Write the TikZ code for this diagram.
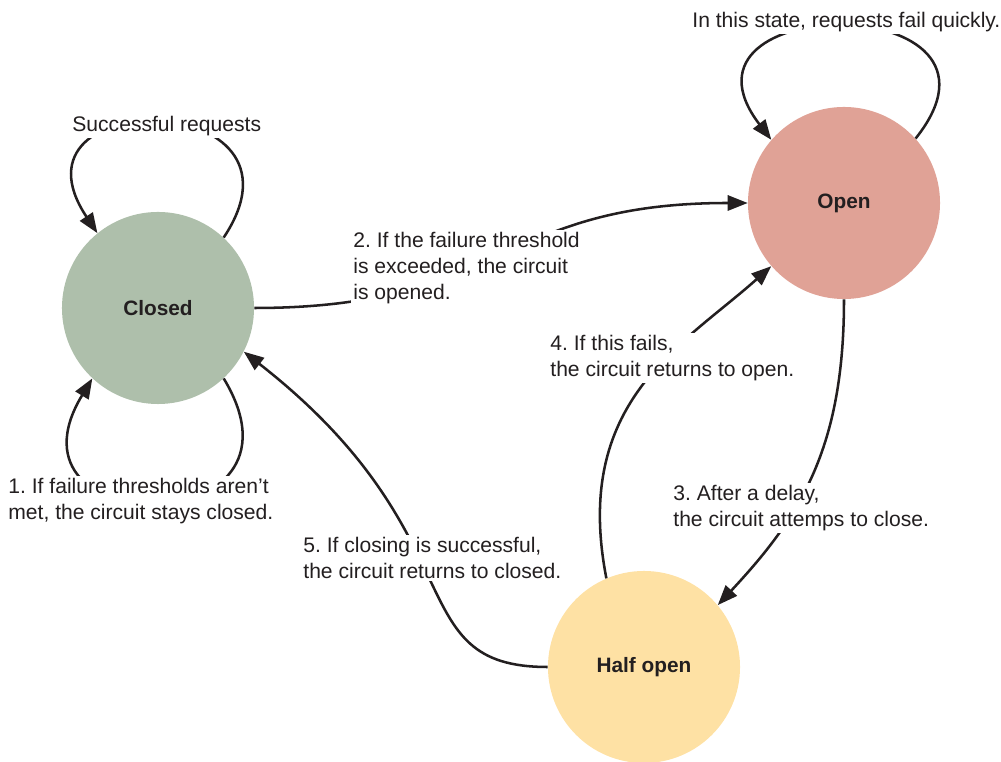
\documentclass[tikz,border=0pt]{standalone}
\usepackage{fontspec}
\setmainfont{Liberation Sans}
\usetikzlibrary{arrows.meta}
\frenchspacing

\definecolor{ink}{RGB}{35,31,32}
\definecolor{closedgreen}{RGB}{174,191,171}
\definecolor{openred}{RGB}{224,162,150}
\definecolor{halfyellow}{RGB}{254,225,164}

\begin{document}
\begin{tikzpicture}
[
	x=0.025cm,
	y=0.025cm,
	state/.style={circle,fill=#1,inner sep=0pt,minimum size=4.8cm,text=ink,font=\fontsize{14.8}{18}\selectfont\bfseries},
	lbl/.style={fill=white,inner sep=1.5pt,align=left,anchor=north west,text=ink,font=\fontsize{15}{18.5}\selectfont},
	trans/.style={ink,line width=1.8pt,-{Triangle[length=0.5cm,width=0.38cm]}}
]

	\useasboundingbox (0,0) rectangle (1001,762);

	% states
	\node[state=closedgreen] at (158,454) (closed) {Closed};
	\node[state=openred] at (844,559) (open) {Open};
	\node[state=halfyellow] at (644,95) (half) {Half open};

	% self loops
	\draw[trans] (closed.47) .. controls +(100,150) and +(-100,150) .. (closed.129);
	\draw[trans] (closed.-47) .. controls +(100,-165) and +(-100,-165) .. (closed.-133);
	\draw[trans] (open.42) .. controls +(120,150) and +(-115,150) .. (open.139);

	% transitions
	\draw[trans] (closed.east) .. controls +(250,0) and +(-250,0) .. (open.west);
	\draw[trans] (open.south) .. controls +(0,-150) and +(47:120) .. (half.40);
	\draw[trans] (half.113) .. controls +(101:180) and +(221.7:120) .. (open.221);
	\draw[trans] (half.west) .. controls +(-150,0) and +(-38:300) .. (closed.-27);

	% labels
	\node[lbl] at (70,648) (succ) {Successful requests};
	\node[lbl] at (690,752) (fastfail) {In this state, requests fail quickly.};
	\node[lbl] at (6,286) (lbl1) {1. If failure thresholds aren’t\\met, the circuit stays closed.};
	\node[lbl] at (351,532) (lbl2) {2. If the failure threshold\\is exceeded, the circuit\\is opened.};
	\node[lbl] at (671,279) (lbl3) {3. After a delay,\\the circuit attemps to close.};
	\node[lbl] at (548,429) (lbl4) {4. If this fails,\\the circuit returns to open.};
	\node[lbl] at (301,227) (lbl5) {5. If closing is successful,\\the circuit returns to closed.};

\end{tikzpicture}
\end{document}
